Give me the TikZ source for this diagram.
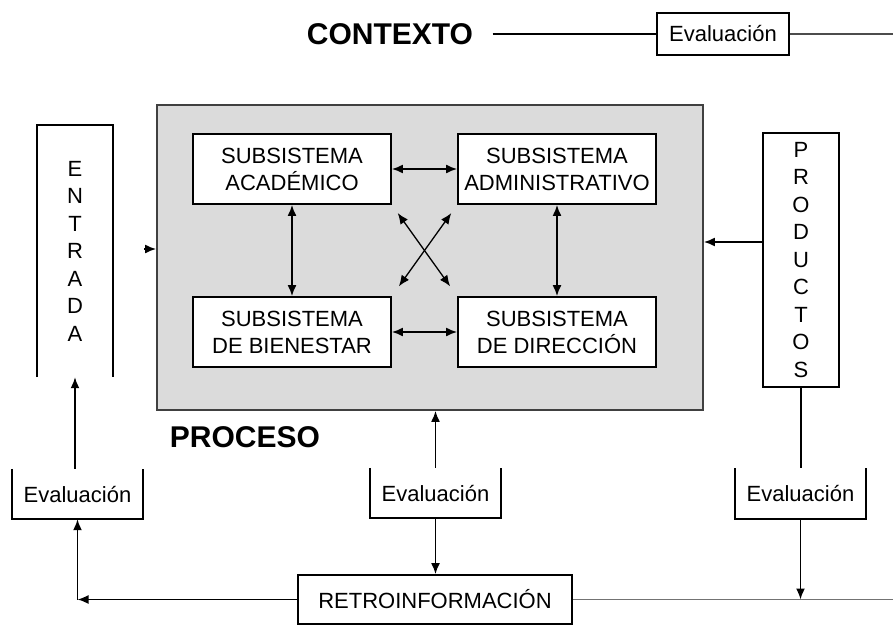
\documentclass[tikz,border=0pt]{standalone}
\usepackage{fontspec}
\setmainfont{Liberation Sans}
\usetikzlibrary{arrows.meta}
\definecolor{fondo}{gray}{0.86}

\begin{document}
\begin{tikzpicture}[x=1pt,y=-1pt,
	caja/.style={draw,line width=1.8pt,fill=white,inner sep=0pt,align=center,font=\fontsize{22}{27}\selectfont},
	subsis/.style={caja,minimum width=198pt,minimum height=70pt},
	evalbox/.style={inner sep=0pt,minimum width=131pt,minimum height=50pt,font=\fontsize{22}{27}\selectfont},
	letras/.style={inner sep=0pt,minimum width=76pt,align=center,font=\fontsize{22}{27.5}\selectfont},
	titulo/.style={font=\fontsize{30}{36}\selectfont\bfseries},
	flecha/.style={-{Latex[length=11pt,width=9pt]},line width=1.7pt},
	doble/.style={{Latex[length=11pt,width=9pt]}-{Latex[length=11pt,width=9pt]},line width=1.7pt}]

\useasboundingbox (0,0) rectangle (893,637);

\node[titulo] (contexto) at (390,34) {CONTEXTO};
\node[caja,minimum width=132pt,minimum height=42pt] (evalC) at (723,34) {Evaluación};
\coordinate (finC) at (893,34);
\draw[line width=1.7pt,shorten <=16pt] (contexto.east) -- (evalC.west);
\draw[line width=1.7pt,black!70] (evalC.east) -- (finC);

\node[draw=black!75,line width=1.8pt,fill=fondo,minimum width=546pt,minimum height=305pt] (proceso) at (430,257.5) {};
\node[titulo] (lproceso) at (245,437) {PROCESO};

\node[subsis] (acad) at (292,169) {SUBSISTEMA\\ACADÉMICO};
\node[subsis] (admin) at (557,169) {SUBSISTEMA\\ADMINISTRATIVO};
\node[subsis] (bien) at (292,332) {SUBSISTEMA\\DE BIENESTAR};
\node[subsis] (dir) at (557,332) {SUBSISTEMA\\DE DIRECCIÓN};

\draw[doble] (acad) -- (admin);
\draw[doble] (bien) -- (dir);
\draw[doble] (acad) -- (bien);
\draw[doble] (admin) -- (dir);
\draw[doble,line width=1.3pt,shorten <=10pt,shorten >=12pt] (acad.south east) -- (dir.north west);
\draw[doble,line width=1.3pt,shorten <=10pt,shorten >=12pt] (admin.south west) -- (bien.north east);

\node[letras,minimum height=252pt] (entrada) at (75,251) {E\\N\\T\\R\\A\\D\\A};
\draw[line width=1.8pt] (entrada.south west) |- (entrada.north east) -- (entrada.south east);
\coordinate (inE) at (144,249);
\draw[flecha] (inE) -- (inE -| proceso.west);

\node[caja,letras,minimum height=254pt] (productos) at (801,260) {P\\R\\O\\D\\U\\C\\T\\O\\S};
\coordinate (outP) at ([yshift=18pt]productos.west);
\draw[flecha] (outP) -- (outP -| proceso.east);

\node[evalbox] (evalE) at (77.5,494) {Evaluación};
\node[evalbox] (evalP) at (435.5,493) {Evaluación};
\node[evalbox] (evalS) at (800.5,493.5) {Evaluación};
\foreach \n in {evalE,evalP,evalS}
	\draw[line width=1.8pt] (\n.north west) |- (\n.south east) -- (\n.north east);

\node[caja,minimum width=274pt,minimum height=49pt] (retro) at (435,599.5) {RETROINFORMACIÓN};

\draw[flecha] (evalE.north -| entrada.south) -- (entrada.south);
\draw[flecha] (evalP.north) -- (evalP.north |- proceso.south);
\draw[flecha] (evalP.south) -- (evalP.south |- retro.north);
\draw[line width=1.7pt] (productos.south) -- (productos.south |- evalS.north);
\coordinate (fbE) at (evalE.south |- retro.west);
\draw[flecha] (retro.west) -- (fbE);
\draw[flecha] (fbE) -- (evalE.south);
\coordinate (finR) at (893,599.5);
\draw[line width=1.7pt,black!55] (retro.east) -- (finR);
\draw[flecha] (evalS.south) -- (evalS.south |- retro.east);

\end{tikzpicture}
\end{document}
